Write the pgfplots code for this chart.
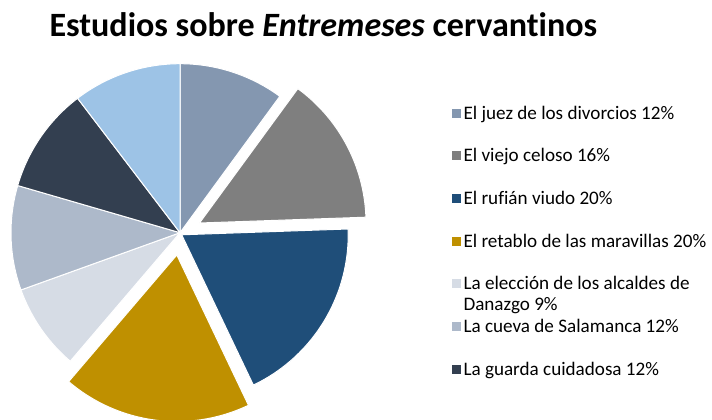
\documentclass[border=0pt]{standalone}
\usepackage{pgfplots}
\pgfplotsset{compat=1.18}
\usepackage{fontspec}
\setmainfont{Carlito}[Ligatures={NoCommon}]
\definecolor{cJuez}{HTML}{8497B0}
\definecolor{cViejo}{HTML}{7F7F7F}
\definecolor{cRufian}{HTML}{1F4E79}
\definecolor{cRetablo}{HTML}{BF9000}
\definecolor{cEleccion}{HTML}{D6DCE5}
\definecolor{cCueva}{HTML}{ADB9CA}
\definecolor{cGuarda}{HTML}{333F50}
\definecolor{cOtro}{HTML}{9DC3E6}
\begin{document}
\begin{tikzpicture}[x=1bp,y=1bp]
\begin{axis}[
  at={(0,0)}, anchor=south west,
  x=1bp, y=1bp, scale only axis,
  xmin=0, xmax=712, ymin=0, ymax=419,
  hide axis, clip=true,
  legend cell align=left,
  legend style={at={(axis cs:451.3,313.5)}, anchor=north west,
    draw=none, fill=none, inner sep=0pt, row sep=27.7bp,
    font=\fontsize{19.2}{19.3}\selectfont,
    nodes={inner ysep=0pt, inner xsep=3bp}},
  legend image code/.code={\fill[#1,draw=none] (0bp,-4.5bp) rectangle (9bp,4.5bp);},
]
% slices: start/end angles (degrees, clockwise from 12 o'clock)
% El juez de los divorcios
\addplot[fill=cJuez, draw=white, line width=1bp, domain=53.8:90, samples=40, variable=\t]
  ({180+169*cos(t)}, {186.3+169*sin(t)}) -- (axis cs:180,186.3) -- cycle;
\addlegendentry{\strut El juez de los divorcios 12\%}
% El viejo celoso (exploded)
\addplot[fill=cViejo, draw=white, line width=1bp, domain=2.0:53.8, samples=50, variable=\t]
  ({199.5+166.5*cos(t)}, {196+166.5*sin(t)}) -- (axis cs:199.5,196) -- cycle;
\addlegendentry{\strut El viejo celoso 16\%}
% El rufian viudo
\addplot[fill=cRufian, draw=white, line width=1bp, domain=-64.5:2.0, samples=60, variable=\t]
  ({181.7+166.5*cos(t)}, {184.2+166.5*sin(t)}) -- (axis cs:181.7,184.2) -- cycle;
\addlegendentry{\strut El rufián viudo 20\%}
% El retablo de las maravillas (exploded)
\addplot[fill=cRetablo, draw=white, line width=1bp, domain=-130.5:-64.5, samples=60, variable=\t]
  ({176.8+166.5*cos(t)}, {164+166.5*sin(t)}) -- (axis cs:176.8,164) -- cycle;
\addlegendentry{\strut El retablo de las maravillas 20\%}
% La eleccion de los alcaldes de Daganzo
\addplot[fill=cEleccion, draw=white, line width=1bp, domain=-160.2:-130.5, samples=30, variable=\t]
  ({180+169*cos(t)}, {186.3+169*sin(t)}) -- (axis cs:180,186.3) -- cycle;
\addlegendentry{\strut\smash{\begin{tabular}[t]{@{}l@{}}La elección de los alcaldes de\\[1.8bp]Danazgo 9\%\end{tabular}}}
% La cueva de Salamanca
\addplot[fill=cCueva, draw=white, line width=1bp, domain=-196.2:-160.2, samples=40, variable=\t]
  ({180+169*cos(t)}, {186.3+169*sin(t)}) -- (axis cs:180,186.3) -- cycle;
\addlegendentry{\strut La cueva de Salamanca 12\%}
% La guarda cuidadosa
\addplot[fill=cGuarda, draw=white, line width=1bp, domain=-232.7:-196.2, samples=40, variable=\t]
  ({180+169*cos(t)}, {186.3+169*sin(t)}) -- (axis cs:180,186.3) -- cycle;
\addlegendentry{\strut La guarda cuidadosa 12\%}
% eighth slice (not in legend)
\addplot[forget plot, fill=cOtro, draw=white, line width=1bp, domain=-270:-232.7, samples=40, variable=\t]
  ({180+169*cos(t)}, {186.3+169*sin(t)}) -- (axis cs:180,186.3) -- cycle;
\node[anchor=base west, inner sep=0pt, font=\fontsize{34.2}{40}\selectfont\bfseries]
  at (axis cs:49.3,382.5) {Estudios sobre \textit{Entremeses} cervantinos};
\end{axis}
\pgfresetboundingbox
\path[use as bounding box] (0,0) rectangle (712,419);
\end{tikzpicture}
\end{document}
